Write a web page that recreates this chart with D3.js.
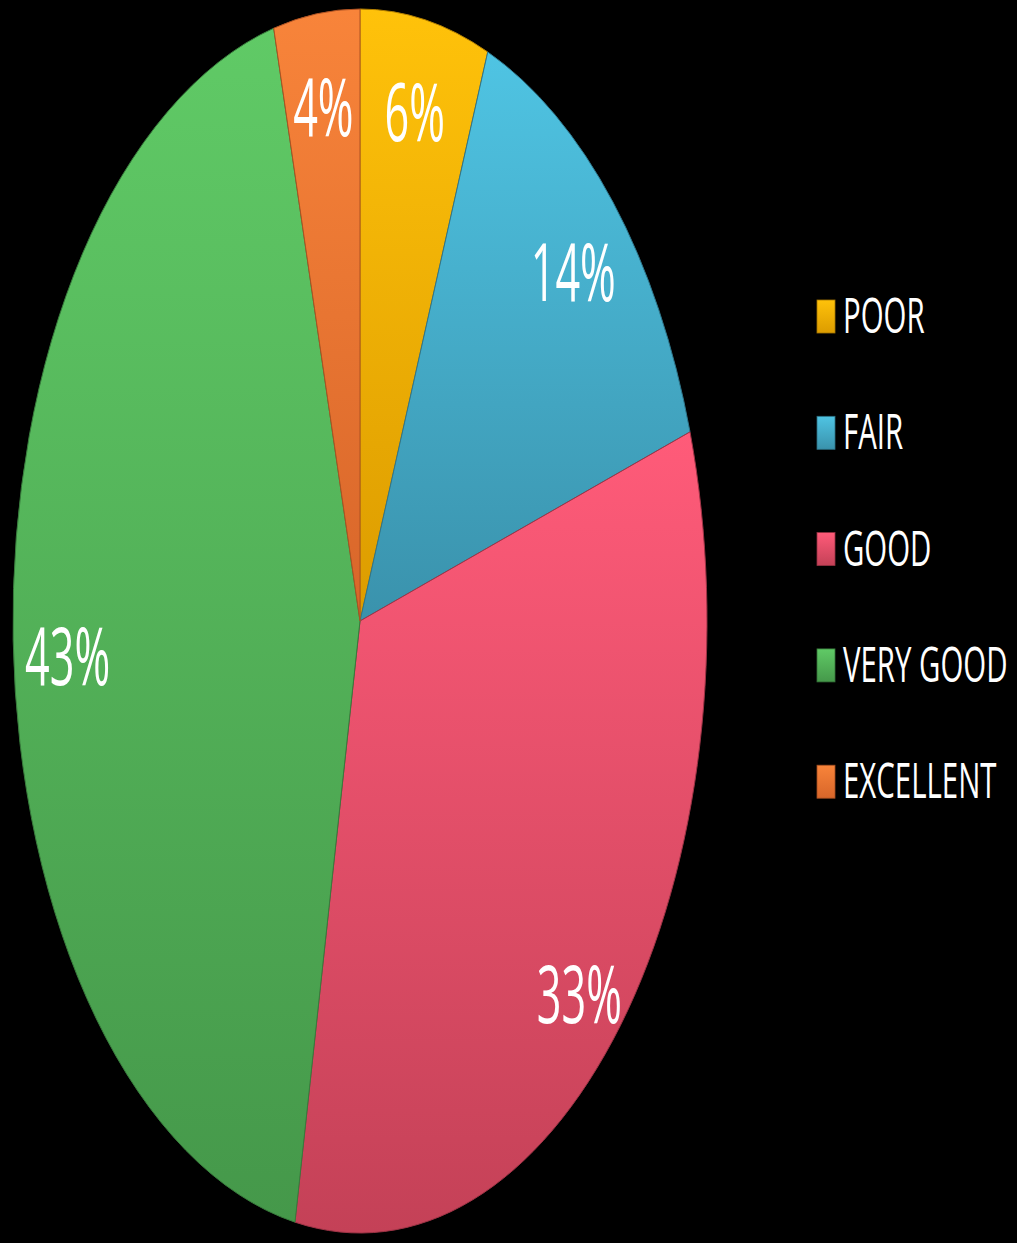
<!DOCTYPE html>
<html>
<head>
<meta charset="utf-8">
<script src="https://cdn.jsdelivr.net/npm/d3@7"></script>
<style>
  html, body { margin: 0; padding: 0; background: #000; }
  svg { display: block; }
</style>
</head>
<body>
<svg id="chart" width="1017" height="1243"></svg>
<script>
const categories = ["POOR", "FAIR", "GOOD", "VERY GOOD", "EXCELLENT"];
const values = [6, 14, 33, 43, 4];
const colorsTop = ["#ffc20a", "#4fc4e3", "#ff5b79", "#60ca66", "#f8843a"];
const colorsBottom = ["#dc9c00", "#3a92ac", "#c44157", "#45984a", "#d8662a"];

const W = 1017, H = 1243;
const cx = 360, cy = 621, rx = 347, ry = 612;
const sy = ry / rx;

const svg = d3.select("#chart");
svg.append("rect").attr("width", W).attr("height", H).attr("fill", "#000");

const defs = svg.append("defs");
categories.forEach((c, i) => {
  const g = defs.append("linearGradient")
    .attr("id", "grad" + i)
    .attr("x1", 0).attr("y1", 0).attr("x2", 0).attr("y2", 1);
  g.append("stop").attr("offset", "0%").attr("stop-color", colorsTop[i]);
  g.append("stop").attr("offset", "100%").attr("stop-color", colorsBottom[i]);
});

const pie = d3.pie().sort(null).value(d => d);
const arcs = pie(values);
const arc = d3.arc().innerRadius(0).outerRadius(rx);
const labelArc = d3.arc().innerRadius(rx).outerRadius(rx);

const pieG = svg.append("g").attr("transform", `translate(${cx},${cy}) scale(1,${sy})`);
pieG.selectAll("path.slice").data(arcs).enter().append("path")
  .attr("class", "slice")
  .attr("d", arc)
  .attr("fill", (d, i) => `url(#grad${i})`)
  .attr("stroke", (d, i) => d3.color(colorsBottom[i]).darker(0.6))
  .attr("stroke-width", 1)
  .attr("vector-effect", "non-scaling-stroke");

// percentage labels
const lblSx = 0.9, lblSy = 1.66, lblFont = 48;
const kx = 0.843, ky = 0.877, yShift = 19;
svg.selectAll("text.pct").data(arcs).enter().append("text")
  .attr("class", "pct")
  .attr("transform", d => {
    const [x, y] = labelArc.centroid(d);
    const px = cx + kx * x;
    const py = cy + ky * sy * y + yShift + 0.714 * lblFont * lblSy / 2;
    return `translate(${px},${py}) scale(${lblSx},${lblSy})`;
  })
  .attr("text-anchor", "middle")
  .attr("font-family", "'Open Sans', sans-serif")
  .attr("font-size", lblFont)
  .attr("fill", "#fff")
  .text(d => d.data + "%");

// legend
const legY0 = 333, legStep = 116.3;
const legG = svg.append("g");
const rows = legG.selectAll("g.row").data(categories).enter().append("g")
  .attr("class", "row")
  .attr("transform", (d, i) => `translate(817,${legY0 + i * legStep})`);
rows.append("rect")
  .attr("x", 0).attr("y", -33).attr("width", 18).attr("height", 33)
  .attr("fill", (d, i) => `url(#grad${i})`)
  .attr("stroke", (d, i) => d3.color(colorsBottom[i]).darker(0.8))
  .attr("stroke-width", 0.8);
rows.append("text")
  .attr("transform", "translate(26,0) scale(0.98,1.62)")
  .attr("font-family", "'Open Sans', sans-serif")
  .attr("font-size", 30)
  .attr("fill", "#fff")
  .text(d => d);
</script>
</body>
</html>
